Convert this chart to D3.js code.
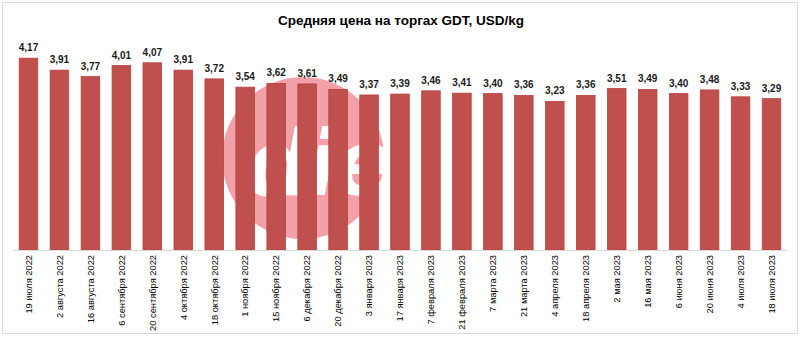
<!DOCTYPE html>
<html><head><meta charset="utf-8">
<script src="https://cdn.jsdelivr.net/npm/d3@7"></script>
<style>body{margin:0;background:#fff;}svg{display:block;}</style>
</head><body>
<svg id="chart" width="800" height="337"></svg>
<script>
const title = "Средняя цена на торгах GDT, USD/kg";
const categories = ["19 июля 2022","2 августа 2022","16 августа 2022","6 сентября 2022","20 сентября 2022","4 октября 2022","18 октября 2022","1 ноября 2022","15 ноября 2022","6 декабря 2022","20 декабря 2022","3 января 2023","17 января 2023","7 февраля 2023","21 февраля 2023","7 марта 2023","21 марта 2023","4 апреля 2023","18 апреля 2023","2 мая 2023","16 мая 2023","6 июня 2023","20 июня 2023","4 июля 2023","18 июля 2023"];
const values = [4.17,3.91,3.77,4.01,4.07,3.91,3.72,3.54,3.62,3.61,3.49,3.37,3.39,3.46,3.41,3.40,3.36,3.23,3.36,3.51,3.49,3.40,3.48,3.33,3.29];

const svg = d3.select("#chart");
const font = "'Liberation Sans Narrow','Liberation Sans',Arial,sans-serif";

// outer frame
svg.append("rect").attr("x",2.5).attr("y",2.5).attr("width",795).attr("height",331)
  .attr("fill","#fff").attr("stroke","#d9d9d9");

svg.append("text").attr("x",401).attr("y",25).attr("text-anchor","middle")
  .attr("font-family","'Liberation Sans',Arial,sans-serif").attr("font-weight","bold")
  .attr("font-size",13.5).attr("fill","#000").text(title);

const x = d3.scaleBand().domain(categories).range([13,787]).paddingInner(0.4).paddingOuter(0.2);
const y = d3.scaleLinear().domain([0,5]).range([250,20]);

// watermark
const wm = svg.append("g").attr("opacity",0.65);
wm.append("circle").attr("cx",303).attr("cy",158).attr("r",81).attr("fill","#ee6f7c");
wm.append("text").attr("x",318).attr("y",195).attr("text-anchor","middle")
  .attr("font-family","'DejaVu Sans',sans-serif").attr("font-weight","bold").attr("font-style","italic")
  .attr("font-size",90).attr("letter-spacing",-4).attr("fill","#fff").text("die");

svg.append("g").selectAll("rect").data(values).join("rect")
  .attr("x",(d,i)=>x(categories[i]))
  .attr("width",x.bandwidth())
  .attr("y",d=>y(d))
  .attr("height",d=>y(0)-y(d))
  .attr("fill","#c0504d").attr("stroke","#b9403d").attr("stroke-width",0.8);

svg.append("g").selectAll("text").data(values).join("text")
  .attr("x",(d,i)=>x(categories[i])+x.bandwidth()/2)
  .attr("y",d=>y(d)-7)
  .attr("text-anchor","middle")
  .attr("font-family",font).attr("font-weight","bold").attr("font-size",10)
  .attr("fill","#1a1a1a")
  .text(d=>d.toFixed(2).replace(".",","));

const xAxis = d3.axisBottom(x).tickSize(0).tickSizeOuter(0);
const gx = svg.append("g").attr("transform",`translate(0,${y(0)})`).call(xAxis);
gx.select(".domain").attr("stroke","#d9d9d9");
gx.selectAll("text")
  .attr("font-family","'Liberation Sans',Arial,sans-serif").attr("font-size",9.3).attr("fill","#000")
  .attr("transform","rotate(-90)").attr("text-anchor","end")
  .attr("x",-5).attr("y",0).attr("dy","0.35em");
</script>
</body></html>
